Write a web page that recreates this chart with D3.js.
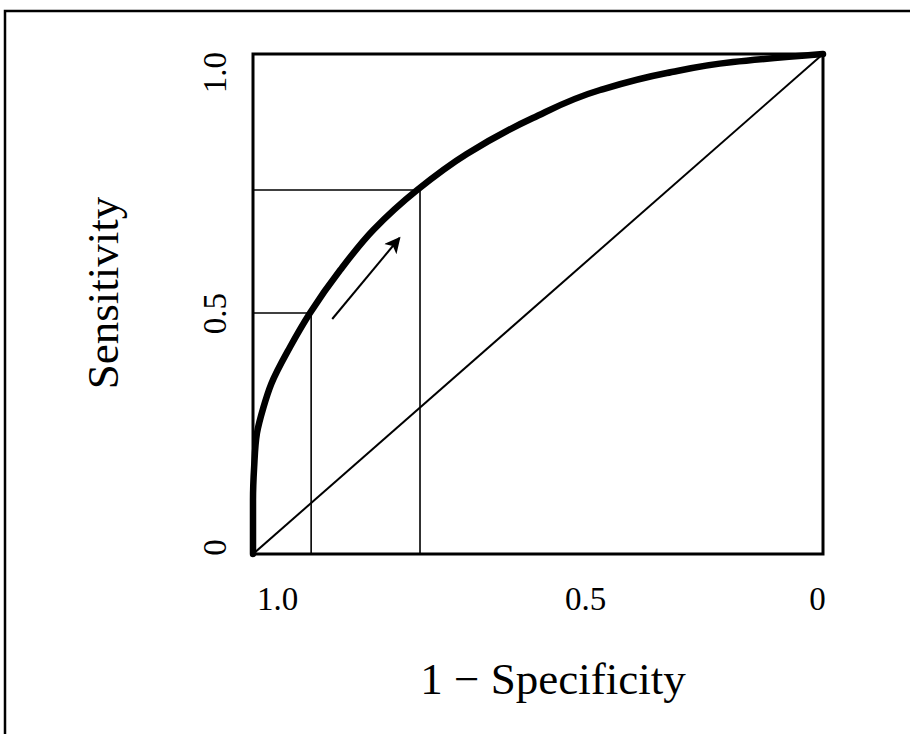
<!DOCTYPE html>
<html>
<head>
<meta charset="utf-8">
<script src="https://cdn.jsdelivr.net/npm/d3@7"></script>
<style>
  html, body { margin: 0; padding: 0; background: #fff; }
  svg { display: block; }
  text { font-family: "Liberation Serif", "Times New Roman", serif; fill: #000; }
</style>
</head>
<body>
<svg id="chart"></svg>
<script>
// values (x is "1 - Specificity" as labelled, 1.0 on the left)
const rocX = [1.0, 1.0, 0.998, 0.993, 0.982, 0.968, 0.935, 0.900, 0.847, 0.789, 0.712, 0.625, 0.509, 0.391, 0.274, 0.158, 0];
const rocY = [0, 0.108, 0.174, 0.242, 0.292, 0.340, 0.414, 0.482, 0.568, 0.648, 0.728, 0.800, 0.872, 0.928, 0.962, 0.984, 1.0];
const cutX = [0.898, 0.707];
const cutY = [0.482, 0.728];
const arrowFrom = [0.861, 0.47];
const arrowTo = [0.743, 0.632];
const xTickValues = [1, 0.5, 0];
const xTickLabels = ["1.0", "0.5", "0"];
const yTickValues = [0, 0.5, 1];
const yTickLabels = ["0", "0.5", "1.0"];

const width = 910, height = 734;
const box = { left: 253, right: 823, top: 54, bottom: 554 };

const svg = d3.select("#chart").attr("width", width).attr("height", height);

const x = d3.scaleLinear().domain([1, 0]).range([box.left, box.right]);
const y = d3.scaleLinear().domain([0, 1]).range([box.bottom, box.top]);

// tick labels sit a bit off the true positions in the original figure
const xLab = d3.scaleLinear().domain([1, 0.5, 0]).range([277, 585, 817]);
const yLab = d3.scaleLinear().domain([0, 0.5, 1]).range([547, 313, 72]);

// frame (only top and left edges are visible)
svg.append("path")
    .attr("d", `M5,${height} L5,11 L${width},11`)
    .attr("fill", "none")
    .attr("stroke", "#000")
    .attr("stroke-width", 2.5);

const g = svg.append("g");

// guide lines to the two cut-off points
cutX.forEach((cx, i) => {
    g.append("line")
        .attr("x1", x(cx)).attr("x2", x(cx))
        .attr("y1", y(0)).attr("y2", y(cutY[i]))
        .attr("stroke", "#000").attr("stroke-width", 1.6);
    g.append("line")
        .attr("x1", x(1)).attr("x2", x(cx))
        .attr("y1", y(cutY[i])).attr("y2", y(cutY[i]))
        .attr("stroke", "#000").attr("stroke-width", 1.6);
});

// chance diagonal
g.append("line")
    .attr("x1", x(1)).attr("y1", y(0))
    .attr("x2", x(0)).attr("y2", y(1))
    .attr("stroke", "#000").attr("stroke-width", 2);

// ROC curve (reversed so that screen y is increasing for monotoneY)
const rocData = rocX.map((v, i) => ({ x: v, y: rocY[i] })).reverse();
g.append("path")
    .datum(rocData)
    .attr("fill", "none")
    .attr("stroke", "#000")
    .attr("stroke-width", 6.5)
    .attr("stroke-linecap", "round")
    .attr("d", d3.line().x(d => x(d.x)).y(d => y(d.y)).curve(d3.curveMonotoneY));

// arrow
svg.append("defs").append("marker")
    .attr("id", "head")
    .attr("viewBox", "0 0 10 10")
    .attr("refX", 9).attr("refY", 5)
    .attr("markerUnits", "userSpaceOnUse")
    .attr("markerWidth", 21).attr("markerHeight", 16)
    .attr("orient", "auto")
    .append("path")
    .attr("d", "M0,0 L10,5 L0,10 L2.5,5 Z")
    .attr("fill", "#000");

g.append("line")
    .attr("x1", x(arrowFrom[0])).attr("y1", y(arrowFrom[1]))
    .attr("x2", x(arrowTo[0])).attr("y2", y(arrowTo[1]))
    .attr("stroke", "#000").attr("stroke-width", 2)
    .attr("marker-end", "url(#head)");

// plot box
svg.append("rect")
    .attr("x", box.left).attr("y", box.top)
    .attr("width", box.right - box.left).attr("height", box.bottom - box.top)
    .attr("fill", "none")
    .attr("stroke", "#000")
    .attr("stroke-width", 3);

// x tick labels
const xAxis = svg.append("g")
    .attr("transform", `translate(0,${610})`)
    .call(d3.axisBottom(xLab).tickValues(xTickValues).tickSize(0)
        .tickFormat((d, i) => xTickLabels[i]));
xAxis.select(".domain").remove();
xAxis.selectAll("text")
    .attr("y", 0).attr("dy", 0)
    .style("font-family", "'Liberation Serif', serif")
    .style("font-size", "33px");

// y tick labels, rotated
const yAxis = svg.append("g")
    .attr("transform", `translate(${226},0)`)
    .call(d3.axisLeft(yLab).tickValues(yTickValues).tickSize(0)
        .tickFormat((d, i) => yTickLabels[i]));
yAxis.select(".domain").remove();
yAxis.selectAll("text")
    .attr("x", 0).attr("dy", 0)
    .attr("text-anchor", "middle")
    .attr("transform", "rotate(-90)")
    .style("font-family", "'Liberation Serif', serif")
    .style("font-size", "33px");

// axis titles
svg.append("text")
    .attr("x", 553).attr("y", 694)
    .attr("text-anchor", "middle")
    .style("font-size", "45px")
    .text("1 \u2212 Specificity");

svg.append("text")
    .attr("transform", `translate(118,293) rotate(-90)`)
    .attr("text-anchor", "middle")
    .style("font-size", "45px")
    .text("Sensitivity");
</script>
</body>
</html>
